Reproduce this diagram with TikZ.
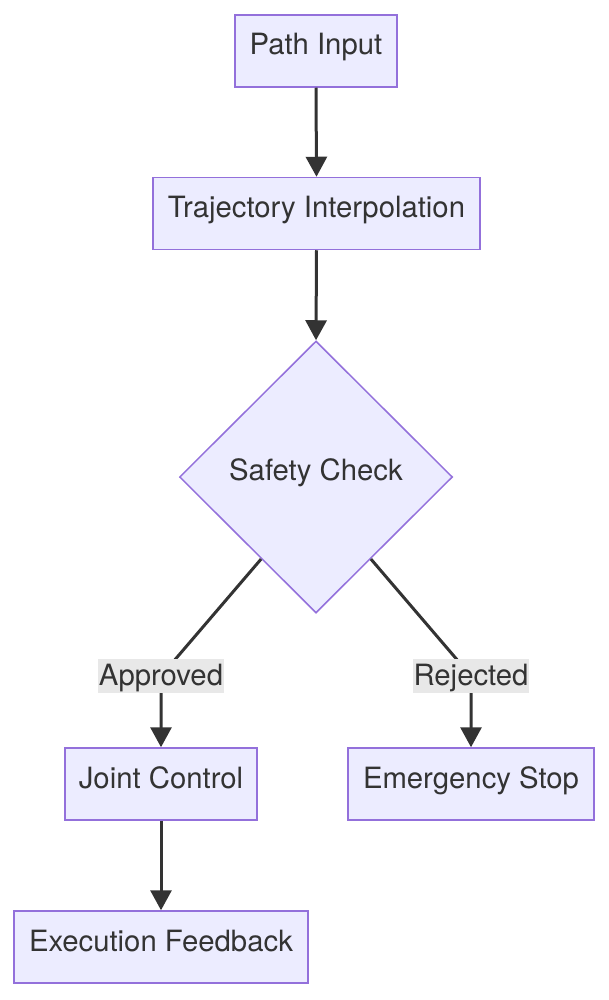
\documentclass[tikz,border=0pt]{standalone}
\usepackage{fontspec}
\setmainfont{TeX Gyre Heros}
\usetikzlibrary{arrows.meta,shapes.geometric,calc}
\definecolor{boxfill}{HTML}{ECECFF}
\definecolor{boxline}{HTML}{9370DB}
\definecolor{ink}{HTML}{333333}
\definecolor{lblbg}{HTML}{E8E8E8}
\begin{document}
\begin{tikzpicture}[x=1pt,y=-1pt,
  font=\fontsize{29.3}{35}\selectfont,
  box/.style={draw=boxline,fill=boxfill,line width=1.5pt,text=ink,inner sep=0pt,
    text height=21pt,text depth=13pt,minimum height=72pt},
  dia/.style={diamond,draw=boxline,fill=boxfill,line width=1.5pt,inner sep=0pt,
    minimum width=273pt,minimum height=272pt},
  ttl/.style={text=ink,inner sep=0pt,anchor=base},
  edge/.style={draw=ink,line width=3pt,-{Triangle[length=20pt,width=21pt]}},
  lbl/.style={fill=lblbg,text=ink,inner xsep=1pt,inner ysep=0pt,anchor=base,
    text height=26pt,text depth=8pt}]
\useasboundingbox (0,0) rectangle (609,1000);
\node[box,minimum width=162pt] (pi) at (316,51) {Path Input};
\node[box,minimum width=327pt] (ti) at (316.5,213.5) {Trajectory Interpolation};
\node[dia] (sc) at (316,477) {};
\node[ttl] (sct) at (316,480) {Safety Check};
\node[box,minimum width=192pt] (jc) at (161,784) {Joint Control};
\node[box,minimum width=246pt] (es) at (471,784) {Emergency Stop};
\node[box,minimum width=294pt] (ef) at (161,947) {Execution Feedback};
\coordinate (ca) at (161,676);
\coordinate (cr) at (471,676);
\draw[edge] (pi.south) -- (ti.north);
\draw[edge] (ti.south) -- (sc.north);
\draw[edge] ($(sc.west)!0.6!(sc.south)$) -- (ca) -- (jc.north);
\draw[edge] ($(sc.east)!0.6!(sc.south)$) -- (cr) -- (es.north);
\node[lbl] (la) at (161,685) {Approved};
\node[lbl] (lr) at (471,685) {Rejected};
\draw[edge] (jc.south) -- (ef.north);
\end{tikzpicture}
\end{document}
